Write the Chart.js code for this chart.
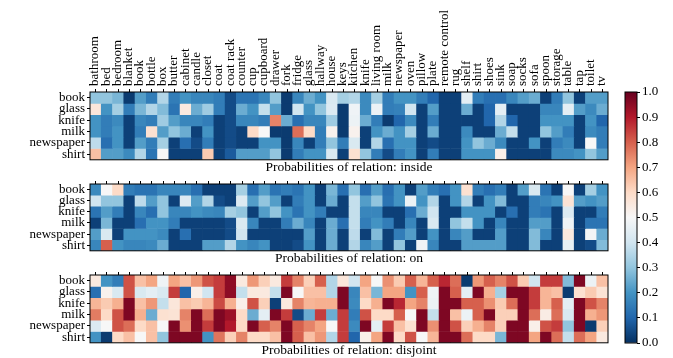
<!DOCTYPE html>
<html>
<head>
<meta charset="utf-8">
<style>
  body { margin: 0; background: #fff; }
  #wrap { position: relative; width: 673px; height: 358px; overflow: hidden; }
  canvas { position: absolute; }
</style>
<script src="https://cdn.jsdelivr.net/npm/chart.js@4/dist/chart.umd.min.js"></script>
</head>
<body>
<div id="wrap">
  <canvas id="inside" width="673" height="178" style="left:0;top:0"></canvas>
  <canvas id="on" width="673" height="102" style="left:0;top:168px"></canvas>
  <canvas id="disjoint" width="673" height="102" style="left:0;top:257px"></canvas>
  <canvas id="cbar" width="73" height="358" style="left:600px;top:0"></canvas>
</div>
<script>
const objects = ['bathroom', 'bed', 'bedroom', 'blanket', 'book', 'bottle', 'box', 'butter', 'cabinet',
  'candle', 'closet', 'coat', 'coat rack', 'counter', 'cup', 'cupboard', 'drawer', 'fork', 'fridge',
  'glass', 'hallway', 'house', 'keys', 'kitchen', 'knife', 'living room', 'milk', 'newspaper', 'oven',
  'pillow', 'plate', 'remote control', 'rug', 'shelf', 'shirt', 'shoes', 'sink', 'soap', 'socks',
  'sofa', 'spoon', 'storage', 'table', 'tap', 'toilet', 'tv'];
const rows = ['book', 'glass', 'knife', 'milk', 'newspaper', 'shirt'];
const cbarTicks = [0, 0.1, 0.2, 0.3, 0.4, 0.5, 0.6, 0.7, 0.8, 0.9, 1.0];

// probability per row (rows order above), one value per object
const insideVals = [
  [0.3, 0.3, 0.27, 0.02, 0.22, 0.15, 0.35, 0.15, 0.2, 0.17, 0.17, 0.15, 0.05, 0.13, 0.13, 0.17, 0.3, 0.02, 0.17, 0.25, 0.2, 0.42, 0.33, 0.35, 0.18, 0.33, 0.15, 0.2, 0.2, 0.15, 0.1, 0.03, 0.03, 0.45, 0.15, 0.12, 0.12, 0.17, 0.22, 0.25, 0.03, 0.15, 0.3, 0.03, 0.22, 0.22],
  [0.56, 0.2, 0.33, 0.15, 0.27, 0.35, 0.28, 0.13, 0.55, 0.25, 0.32, 0.15, 0.05, 0.25, 0.2, 0.38, 0.22, 0.02, 0.4, 0.2, 0.3, 0.43, 0.02, 0.48, 0.18, 0.47, 0.15, 0.16, 0.4, 0.03, 0.22, 0.03, 0.03, 0.25, 0.03, 0.1, 0.45, 0.03, 0.03, 0.03, 0.17, 0.17, 0.45, 0.22, 0.18, 0.25],
  [0.2, 0.15, 0.18, 0.03, 0.17, 0.15, 0.32, 0.22, 0.17, 0.17, 0.15, 0.03, 0.05, 0.17, 0.17, 0.15, 0.75, 0.25, 0.12, 0.17, 0.17, 0.32, 0.02, 0.47, 0.25, 0.15, 0.02, 0.1, 0.18, 0.03, 0.15, 0.03, 0.03, 0.03, 0.03, 0.1, 0.35, 0.1, 0.03, 0.03, 0.2, 0.2, 0.2, 0.03, 0.2, 0.1],
  [0.2, 0.15, 0.2, 0.03, 0.15, 0.58, 0.22, 0.3, 0.25, 0.03, 0.2, 0.03, 0.05, 0.03, 0.6, 0.5, 0.02, 0.02, 0.78, 0.6, 0.15, 0.52, 0.02, 0.52, 0.03, 0.2, 0.25, 0.2, 0.33, 0.03, 0.25, 0.03, 0.03, 0.18, 0.03, 0.03, 0.25, 0.38, 0.03, 0.03, 0.3, 0.22, 0.15, 0.03, 0.18, 0.15],
  [0.37, 0.12, 0.2, 0.03, 0.22, 0.15, 0.33, 0.03, 0.12, 0.05, 0.15, 0.03, 0.05, 0.03, 0.03, 0.2, 0.2, 0.02, 0.17, 0.03, 0.15, 0.3, 0.15, 0.42, 0.03, 0.35, 0.12, 0.2, 0.2, 0.03, 0.05, 0.03, 0.03, 0.2, 0.3, 0.25, 0.18, 0.03, 0.03, 0.2, 0.03, 0.15, 0.18, 0.03, 0.5, 0.15],
  [0.65, 0.22, 0.22, 0.18, 0.35, 0.13, 0.5, 0.03, 0.03, 0.03, 0.63, 0.03, 0.08, 0.22, 0.22, 0.22, 0.3, 0.02, 0.15, 0.2, 0.2, 0.42, 0.03, 0.58, 0.3, 0.15, 0.05, 0.15, 0.2, 0.03, 0.15, 0.03, 0.03, 0.2, 0.2, 0.2, 0.53, 0.03, 0.03, 0.03, 0.03, 0.18, 0.18, 0.2, 0.3, 0.22]
];
const onVals = [
  [0.18, 0.5, 0.6, 0.15, 0.13, 0.13, 0.17, 0.17, 0.17, 0.12, 0.03, 0.03, 0.03, 0.33, 0.12, 0.22, 0.13, 0.15, 0.13, 0.2, 0.03, 0.27, 0.12, 0.3, 0.12, 0.22, 0.12, 0.2, 0.03, 0.22, 0.15, 0.12, 0.2, 0.58, 0.15, 0.12, 0.15, 0.03, 0.22, 0.42, 0.13, 0.03, 0.5, 0.03, 0.33, 0.2],
  [0.4, 0.3, 0.3, 0.03, 0.37, 0.22, 0.3, 0.03, 0.43, 0.22, 0.35, 0.05, 0.03, 0.43, 0.22, 0.3, 0.22, 0.03, 0.15, 0.2, 0.03, 0.25, 0.03, 0.38, 0.22, 0.3, 0.13, 0.2, 0.47, 0.2, 0.35, 0.03, 0.2, 0.35, 0.03, 0.2, 0.28, 0.03, 0.03, 0.15, 0.17, 0.2, 0.57, 0.22, 0.2, 0.22],
  [0.13, 0.22, 0.15, 0.03, 0.17, 0.12, 0.3, 0.17, 0.17, 0.2, 0.18, 0.17, 0.33, 0.3, 0.03, 0.22, 0.3, 0.2, 0.13, 0.2, 0.15, 0.03, 0.03, 0.38, 0.17, 0.17, 0.03, 0.03, 0.12, 0.25, 0.4, 0.03, 0.03, 0.2, 0.2, 0.2, 0.03, 0.12, 0.03, 0.15, 0.13, 0.03, 0.43, 0.03, 0.03, 0.15],
  [0.03, 0.27, 0.03, 0.03, 0.12, 0.2, 0.2, 0.15, 0.03, 0.03, 0.03, 0.03, 0.05, 0.42, 0.17, 0.03, 0.03, 0.15, 0.25, 0.17, 0.03, 0.25, 0.12, 0.38, 0.15, 0.2, 0.15, 0.03, 0.17, 0.03, 0.42, 0.03, 0.3, 0.38, 0.2, 0.03, 0.17, 0.03, 0.03, 0.22, 0.22, 0.03, 0.48, 0.03, 0.13, 0.13],
  [0.22, 0.42, 0.03, 0.2, 0.2, 0.2, 0.18, 0.03, 0.12, 0.03, 0.03, 0.03, 0.05, 0.4, 0.03, 0.03, 0.03, 0.03, 0.03, 0.22, 0.03, 0.25, 0.03, 0.37, 0.03, 0.28, 0.03, 0.15, 0.22, 0.03, 0.2, 0.03, 0.17, 0.22, 0.03, 0.03, 0.22, 0.03, 0.03, 0.28, 0.17, 0.03, 0.55, 0.03, 0.49, 0.25],
  [0.17, 0.8, 0.2, 0.17, 0.17, 0.18, 0.25, 0.03, 0.03, 0.03, 0.22, 0.22, 0.35, 0.2, 0.17, 0.2, 0.03, 0.03, 0.05, 0.2, 0.03, 0.25, 0.03, 0.35, 0.17, 0.22, 0.03, 0.3, 0.03, 0.48, 0.17, 0.03, 0.03, 0.22, 0.22, 0.22, 0.22, 0.03, 0.03, 0.28, 0.03, 0.03, 0.46, 0.03, 0.05, 0.28]
];
const disjointVals = [
  [0.55, 0.2, 0.15, 0.82, 0.65, 0.7, 0.48, 0.7, 0.65, 0.72, 0.82, 0.85, 0.95, 0.55, 0.72, 0.62, 0.55, 0.85, 0.75, 0.62, 0.8, 0.35, 0.56, 0.4, 0.7, 0.5, 0.73, 0.63, 0.8, 0.67, 0.8, 0.88, 0.78, 0.02, 0.72, 0.8, 0.75, 0.82, 0.63, 0.4, 0.85, 0.85, 0.28, 0.97, 0.47, 0.65],
  [0.12, 0.52, 0.42, 0.82, 0.42, 0.45, 0.42, 0.85, 0.1, 0.53, 0.4, 0.85, 0.95, 0.38, 0.55, 0.55, 0.38, 0.97, 0.5, 0.65, 0.65, 0.35, 0.97, 0.17, 0.65, 0.27, 0.7, 0.7, 0.2, 0.8, 0.48, 0.97, 0.8, 0.45, 0.97, 0.68, 0.33, 0.97, 0.97, 0.85, 0.67, 0.65, 0.02, 0.58, 0.63, 0.57],
  [0.67, 0.63, 0.68, 0.97, 0.65, 0.72, 0.38, 0.56, 0.65, 0.63, 0.67, 0.83, 0.68, 0.53, 0.82, 0.62, 0.03, 0.55, 0.75, 0.67, 0.68, 0.68, 0.97, 0.18, 0.6, 0.68, 0.97, 0.88, 0.7, 0.75, 0.47, 0.97, 0.97, 0.8, 0.8, 0.73, 0.63, 0.78, 0.97, 0.85, 0.67, 0.8, 0.45, 0.97, 0.82, 0.75],
  [0.76, 0.6, 0.82, 0.97, 0.68, 0.25, 0.58, 0.57, 0.75, 0.97, 0.78, 0.97, 0.93, 0.6, 0.25, 0.45, 0.97, 0.85, 0.05, 0.25, 0.85, 0.25, 0.85, 0.15, 0.82, 0.6, 0.6, 0.8, 0.5, 0.97, 0.38, 0.97, 0.65, 0.47, 0.8, 0.97, 0.62, 0.62, 0.97, 0.78, 0.54, 0.78, 0.42, 0.97, 0.68, 0.72],
  [0.43, 0.5, 0.82, 0.78, 0.6, 0.65, 0.5, 0.97, 0.73, 0.97, 0.85, 0.97, 0.9, 0.6, 0.97, 0.8, 0.75, 0.97, 0.8, 0.75, 0.7, 0.5, 0.85, 0.18, 0.97, 0.45, 0.85, 0.65, 0.58, 0.97, 0.73, 0.97, 0.82, 0.62, 0.68, 0.75, 0.62, 0.97, 0.97, 0.53, 0.82, 0.85, 0.3, 0.97, 0.02, 0.62],
  [0.2, 0.02, 0.6, 0.65, 0.5, 0.65, 0.3, 0.97, 0.97, 0.97, 0.2, 0.77, 0.62, 0.75, 0.6, 0.6, 0.65, 0.97, 0.8, 0.65, 0.72, 0.35, 0.85, 0.1, 0.53, 0.7, 0.97, 0.6, 0.82, 0.5, 0.67, 0.97, 0.97, 0.78, 0.6, 0.6, 0.27, 0.97, 0.97, 0.7, 0.97, 0.78, 0.38, 0.78, 0.7, 0.55]
];

// RdBu_r colour map
const stops = ['#053061', '#2166ac', '#4393c3', '#92c5de', '#d1e5f0', '#f7f7f7',
  '#fddbc7', '#f4a582', '#d6604d', '#b2182b', '#67001f'];
const rgb = h => [1, 3, 5].map(i => parseInt(h.substr(i, 2), 16));
function cmap(v) {
  const t = Math.max(0, Math.min(1, v)) * 10;
  const i = Math.min(9, Math.floor(t));
  const f = t - i;
  const a = rgb(stops[i]), b = rgb(stops[i + 1]);
  const c = a.map((x, k) => Math.round(x + (b[k] - x) * f));
  return `rgb(${c[0]},${c[1]},${c[2]})`;
}

const FONT = { family: "'Liberation Serif', 'Times New Roman', serif", size: 13 };
const TITLE_FONT = { family: FONT.family, size: 13.5, weight: 'normal' };
Chart.defaults.color = '#000';
Chart.defaults.font = FONT;

// black frame round the plot area
const frame = {
  id: 'frame',
  afterDatasetsDraw(chart) {
    const a = chart.chartArea, ctx = chart.ctx;
    ctx.save();
    ctx.strokeStyle = '#000';
    ctx.lineWidth = 1;
    ctx.strokeRect(a.left, a.top, a.right - a.left, a.bottom - a.top);
    ctx.restore();
  }
};

function heatmap(id, vals, title, axisH, titlePad, showX) {
  new Chart(document.getElementById(id), {
    type: 'bar',
    data: {
      labels: objects,
      datasets: rows.map((r, i) => ({
        label: r,
        data: objects.map(() => [i, i + 1]),
        backgroundColor: vals[i].map(cmap),
        borderWidth: 0,
        borderSkipped: false,
        grouped: false,
        barPercentage: 1,
        categoryPercentage: 1
      }))
    },
    options: {
      responsive: false,
      animation: false,
      events: [],
      layout: { padding: { left: 0, right: 65, top: 0, bottom: 0 } },
      plugins: {
        legend: { display: false },
        tooltip: { enabled: false },
        title: {
          display: true, text: title, position: 'bottom', fullSize: false,
          padding: { top: 0, bottom: titlePad },
          font: TITLE_FONT, color: '#000'
        }
      },
      scales: {
        x: {
          position: 'top',
          grid: { offset: false, drawOnChartArea: false, tickLength: 3, color: '#000' },
          border: { display: false },
          ticks: { display: showX, autoSkip: false, maxRotation: 90, minRotation: 90, padding: 3, labelOffset: 15 },
          afterFit(s) { s.height = axisH; }
        },
        y: {
          min: 0, max: 6, reverse: true,
          grid: { drawOnChartArea: false, tickLength: 3, color: '#000' },
          border: { display: false },
          afterBuildTicks(s) { s.ticks = rows.map((r, i) => ({ value: i + 0.5 })); },
          ticks: { autoSkip: false, padding: 2, callback: (v, i) => rows[i] },
          afterFit(s) { s.width = 90; }
        }
      }
    },
    plugins: [frame]
  });
}

heatmap('inside', insideVals, 'Probabilities of relation: inside', 92, 2, true);
heatmap('on', onVals, 'Probabilities of relation: on', 16, 3, false);
heatmap('disjoint', disjointVals, 'Probabilities of relation: disjoint', 18, 0, false);

// colour bar
new Chart(document.getElementById('cbar'), {
  type: 'bar',
  data: {
    labels: [''],
    datasets: [{
      data: [[0, 1]],
      backgroundColor(ctx) {
        const c = ctx.chart;
        if (!c.chartArea) return null;
        const y = c.scales.y;
        const g = c.ctx.createLinearGradient(0, y.getPixelForValue(0), 0, y.getPixelForValue(1));
        stops.forEach((s, i) => g.addColorStop(i / 10, s));
        return g;
      },
      borderWidth: 0,
      borderSkipped: false,
      barPercentage: 1,
      categoryPercentage: 1
    }]
  },
  options: {
    responsive: false,
    animation: false,
    events: [],
    layout: { padding: { left: 25, right: 0, top: 92, bottom: 15 } },
    plugins: { legend: { display: false }, tooltip: { enabled: false } },
    scales: {
      x: { display: false },
      y: {
        position: 'right', min: 0, max: 1,
        grid: { drawOnChartArea: false, tickLength: 3, color: '#000' },
        border: { display: false },
        afterBuildTicks(s) { s.ticks = cbarTicks.map(v => ({ value: v })); },
        ticks: { padding: 2, callback: (v, i) => cbarTicks[i].toFixed(1) },
        afterFit(s) { s.width = 36; }
      }
    }
  },
  plugins: [frame]
});
</script>
</body>
</html>
